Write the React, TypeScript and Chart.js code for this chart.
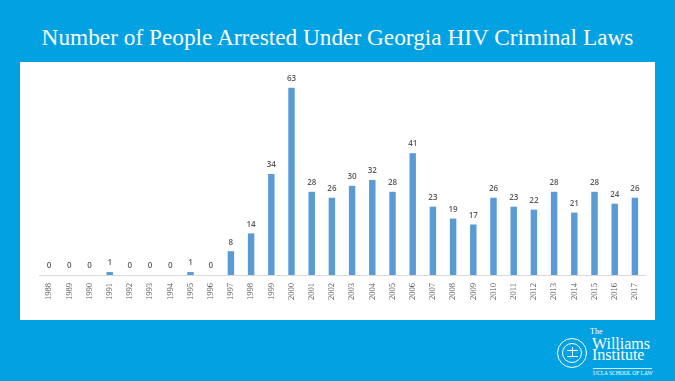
import React, { useEffect, useRef } from "react";
import { Chart, registerables } from "chart.js";

Chart.register(...registerables);

const TITLE = "Number of People Arrested Under Georgia HIV Criminal Laws";
const years = [
  "1988", "1989", "1990", "1991", "1992", "1993", "1994", "1995", "1996", "1997",
  "1998", "1999", "2000", "2001", "2002", "2003", "2004", "2005", "2006", "2007",
  "2008", "2009", "2010", "2011", "2012", "2013", "2014", "2015", "2016", "2017",
];
const arrests = [
  0, 0, 0, 1, 0, 0, 0, 1, 0, 8,
  14, 34, 63, 28, 26, 30, 32, 28, 41, 23,
  19, 17, 26, 23, 22, 28, 21, 28, 24, 26,
];

const valueLabels = {
  id: "valueLabels",
  afterDatasetsDraw(chart: any) {
    const ctx = chart.ctx;
    const meta = chart.getDatasetMeta(0);
    const data = chart.data.datasets[0].data;
    ctx.save();
    ctx.fillStyle = "#595959";
    ctx.font = "600 8px 'Open Sans', sans-serif";
    ctx.textAlign = "center";
    ctx.textBaseline = "middle";
    meta.data.forEach((bar: any, i: number) => {
      ctx.fillText(String(data[i]), bar.x, bar.y - 9);
    });
    ctx.restore();
  },
};

const serif = "'Liberation Serif', serif";

function Seal() {
  return (
    <div
      style={{
        position: "absolute",
        left: 557,
        top: 338,
        width: 30,
        height: 30,
        borderRadius: "50%",
        border: "1.3px solid #fff",
        boxSizing: "border-box",
      }}
    >
      <div
        style={{
          position: "absolute",
          left: 3.5,
          top: 3.5,
          width: 20.5,
          height: 20.5,
          borderRadius: "50%",
          border: "0.8px solid #fff",
          boxSizing: "border-box",
        }}
      >
        <div style={{ position: "absolute", left: 4, top: 6, width: 11, height: 1, background: "#fff" }} />
        <div style={{ position: "absolute", left: 9, top: 3, width: 1, height: 10, background: "#fff" }} />
        <div style={{ position: "absolute", left: 4, top: 12, width: 11, height: 1.5, background: "#fff" }} />
      </div>
    </div>
  );
}

export default function App() {
  const ref = useRef<HTMLCanvasElement>(null);

  useEffect(() => {
    if (!ref.current) return;
    const chart = new Chart(ref.current, {
      type: "bar",
      data: {
        labels: years,
        datasets: [
          {
            data: arrests,
            backgroundColor: "#5b9bd5",
            borderWidth: 0,
            barPercentage: 0.32,
            categoryPercentage: 1,
          },
        ],
      },
      options: {
        animation: false,
        responsive: false,
        devicePixelRatio: 1,
        layout: { padding: { left: 19, right: 10, top: 5, bottom: 0 } },
        plugins: {
          legend: { display: false },
          title: { display: false },
          tooltip: { enabled: false },
        },
        scales: {
          y: { display: false, min: 0, max: 70 },
          x: {
            grid: { display: false, drawTicks: false },
            border: { display: true, color: "#d9d9d9", width: 1 },
            ticks: {
              color: "#595959",
              font: { family: serif, size: 8.5 },
              minRotation: 90,
              maxRotation: 90,
              padding: 8,
              autoSkip: false,
            },
            afterFit: (scale: any) => {
              scale.height = 45;
            },
          },
        },
      },
      plugins: [valueLabels],
    });
    return () => chart.destroy();
  }, []);

  const white = "#fff";
  return (
    <div
      style={{
        position: "fixed",
        left: 0,
        top: 0,
        width: 675,
        height: 381,
        background: "#02a1e2",
        overflow: "hidden",
      }}
    >
      <div
        style={{
          position: "absolute",
          left: 0,
          top: 20,
          width: 675,
          textAlign: "center",
          color: white,
          fontFamily: serif,
          fontSize: 23.3,
          lineHeight: "34px",
          whiteSpace: "nowrap",
        }}
      >
        {TITLE}
      </div>
      <div
        style={{
          position: "absolute",
          left: 20,
          top: 62,
          width: 635,
          height: 258,
          background: "#fff",
        }}
      >
        <canvas ref={ref} width={635} height={258} style={{ width: 635, height: 258, display: "block" }} />
      </div>
      <Seal />
      <div style={{ position: "absolute", left: 590, top: 328, color: white, fontFamily: serif, fontSize: 8, lineHeight: "8px" }}>The</div>
      <div style={{ position: "absolute", left: 592, top: 336, color: white, fontFamily: serif, fontSize: 16, lineHeight: "15px" }}>Williams</div>
      <div style={{ position: "absolute", left: 592, top: 347, color: white, fontFamily: serif, fontSize: 16, lineHeight: "15px" }}>Institute</div>
      <div style={{ position: "absolute", left: 593, top: 368, width: 59, height: 1, background: "rgba(255,255,255,0.8)" }} />
      <div style={{ position: "absolute", left: 593, top: 370, color: white, fontFamily: serif, fontSize: 5.5, lineHeight: "6px", whiteSpace: "nowrap" }}>UCLA SCHOOL OF LAW</div>
    </div>
  );
}
